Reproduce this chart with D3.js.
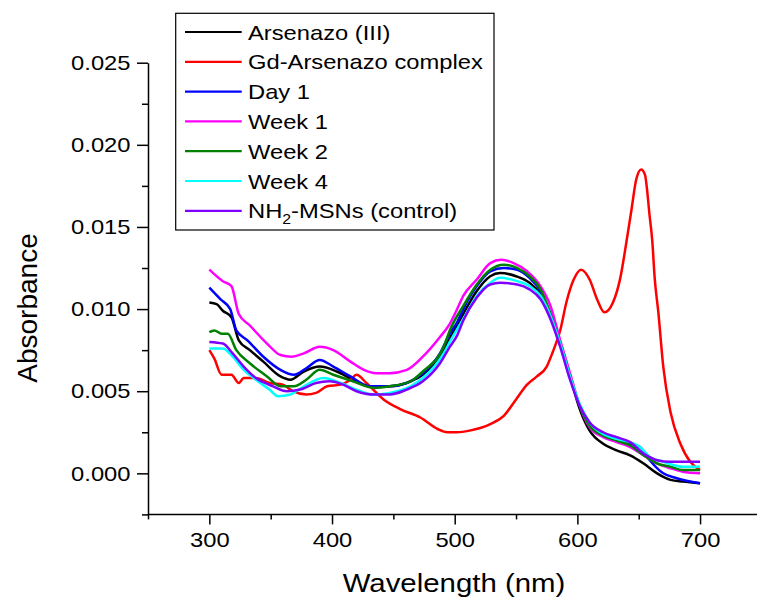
<!DOCTYPE html>
<html lang="en">
<head>
<meta charset="utf-8">
<style type="text/css">
    body { margin: 0; background: #fff; }
    svg { display: block; font-family: Arial, "Liberation Sans", sans-serif; }
    .axis path, .axis line { stroke: #000; stroke-width: 1.5px; }
    .axis text { font-size: 21px; fill: #000; font-family: Arial, "Liberation Sans", sans-serif; }
    .series { fill: none; stroke-width: 2.5px; stroke-linejoin: round; }
    .legend text { font-size: 21px; fill: #000; }
</style>
</head>
<body>
<svg width="757" height="597"></svg>

<script src="https://d3js.org/d3.v7.min.js"></script>
<script type="text/javascript">
// [wavelength nm, absorbance]
var arsenazo = [[300,0.0104],[306,0.0103],[311,0.0099],[318,0.0095],[324,0.0081],[333,0.0075],[344,0.0068],[358,0.0059],[366,0.0057],[377,0.0062],[390,0.0065],[404,0.0062],[417,0.0057],[431,0.0053],[447,0.0053],[464,0.0056],[474,0.0060],[491,0.0075],[496,0.0082],[507,0.0097],[518,0.0111],[529,0.0120],[537,0.0122],[550,0.0120],[561,0.0116],[570,0.0109],[578,0.0096],[586,0.0079],[594,0.0059],[602,0.0039],[610,0.0026],[621,0.0018],[632,0.0014],[643,0.0011],[654,0.0006],[665,0.0000],[676,-0.0004],[686,-0.0005],[700,-0.0006]];
var gdComplex = [[300,0.0075],[304,0.0070],[310,0.0060],[318,0.0060],[324,0.0055],[328,0.0058],[338,0.0058],[349,0.0055],[360,0.0054],[368,0.0050],[379,0.0048],[387,0.0049],[396,0.0053],[407,0.0054],[415,0.0057],[420,0.0060],[428,0.0055],[442,0.0045],[456,0.0039],[472,0.0034],[486,0.0027],[494,0.0025],[502,0.0025],[512,0.0026],[529,0.0030],[540,0.0035],[550,0.0045],[559,0.0054],[567,0.0059],[575,0.0065],[580,0.0074],[586,0.0087],[591,0.0104],[597,0.0118],[603,0.0124],[610,0.0118],[616,0.0106],[622,0.0098],[629,0.0104],[635,0.0119],[640,0.0141],[644,0.0160],[648,0.0179],[652,0.0185],[655,0.0182],[659,0.0156],[661,0.0142],[663,0.0119],[666,0.0098],[670,0.0065],[676,0.0037],[684,0.0018],[692,0.0007],[700,0.0002]];
var day1 = [[300,0.0113],[309,0.0106],[317,0.0100],[322,0.0087],[331,0.0081],[344,0.0071],[358,0.0063],[369,0.0060],[379,0.0064],[390,0.0069],[401,0.0065],[415,0.0059],[431,0.0053],[447,0.0053],[461,0.0055],[474,0.0061],[488,0.0073],[496,0.0085],[502,0.0092],[507,0.0100],[518,0.0114],[529,0.0123],[540,0.0125],[551,0.0124],[561,0.0119],[570,0.0111],[578,0.0097],[586,0.0079],[594,0.0059],[602,0.0041],[610,0.0029],[621,0.0023],[632,0.0020],[643,0.0018],[651,0.0016],[659,0.0008],[670,0.0000],[681,-0.0003],[700,-0.0006]];
var week1 = [[300,0.0124],[311,0.0117],[318,0.0114],[324,0.0097],[333,0.0090],[347,0.0079],[358,0.0072],[367,0.0071],[377,0.0073],[390,0.0077],[401,0.0075],[415,0.0068],[426,0.0063],[436,0.0061],[447,0.0061],[461,0.0063],[474,0.0071],[488,0.0083],[496,0.0091],[502,0.0100],[507,0.0108],[518,0.0118],[529,0.0128],[538,0.0130],[548,0.0128],[559,0.0123],[568,0.0116],[578,0.0102],[586,0.0081],[594,0.0061],[602,0.0041],[610,0.0028],[621,0.0022],[632,0.0019],[643,0.0016],[654,0.0011],[665,0.0006],[676,0.0003],[686,0.0001],[700,0.0000]];
var week2 = [[300,0.0086],[304,0.0087],[310,0.0085],[315,0.0085],[322,0.0075],[333,0.0067],[347,0.0059],[358,0.0053],[369,0.0053],[379,0.0057],[390,0.0063],[401,0.0060],[417,0.0056],[434,0.0052],[447,0.0053],[464,0.0056],[474,0.0062],[491,0.0077],[496,0.0087],[507,0.0102],[518,0.0115],[529,0.0124],[540,0.0127],[551,0.0125],[561,0.0120],[570,0.0112],[578,0.0097],[586,0.0079],[594,0.0059],[602,0.0041],[610,0.0029],[621,0.0023],[632,0.0020],[643,0.0017],[654,0.0011],[665,0.0006],[676,0.0004],[686,0.0002],[700,0.0002]];
var week4 = [[300,0.0076],[311,0.0076],[319,0.0071],[328,0.0063],[338,0.0057],[349,0.0051],[356,0.0047],[366,0.0048],[377,0.0053],[393,0.0058],[407,0.0055],[420,0.0051],[434,0.0048],[447,0.0049],[464,0.0053],[474,0.0058],[491,0.0073],[496,0.0080],[507,0.0094],[518,0.0108],[529,0.0116],[537,0.0119],[551,0.0117],[561,0.0114],[570,0.0108],[578,0.0096],[586,0.0079],[594,0.0059],[602,0.0042],[610,0.0031],[621,0.0024],[632,0.0021],[643,0.0019],[651,0.0016],[659,0.0010],[670,0.0007],[686,0.0004],[700,0.0004]];
var control = [[300,0.0080],[311,0.0079],[319,0.0073],[328,0.0065],[338,0.0058],[352,0.0053],[363,0.0050],[374,0.0051],[387,0.0055],[398,0.0056],[409,0.0054],[420,0.0050],[434,0.0048],[447,0.0048],[461,0.0051],[474,0.0056],[488,0.0067],[496,0.0077],[502,0.0084],[507,0.0093],[518,0.0107],[529,0.0115],[537,0.0116],[551,0.0115],[561,0.0112],[570,0.0106],[578,0.0094],[586,0.0077],[594,0.0057],[602,0.0041],[610,0.0031],[621,0.0025],[632,0.0022],[643,0.0019],[654,0.0012],[665,0.0008],[676,0.0007],[700,0.0007]];

var seriesNames = ["Arsenazo (III)", "Gd-Arsenazo complex", "Day 1", "Week 1", "Week 2", "Week 4", "NH2-MSNs (control)"];
var seriesColors = ["#000000", "#ff0000", "#0000ff", "#ff00ff", "#008000", "#00ffff", "#8000ff"];
var seriesData = [arsenazo, gdComplex, day1, week1, week2, week4, control];

var xTicks = [300, 400, 500, 600, 700];
var xMinor = [250, 350, 450, 550, 650, 750];
var yTicks = [0, 0.005, 0.010, 0.015, 0.020, 0.025];
var yMinor = [-0.0025, 0.0025, 0.0075, 0.0125, 0.0175, 0.0225];

var svg = d3.select("svg");

var x = d3.scaleLinear().domain([250, 750]).range([148, 761.4]);
var y = d3.scaleLinear().domain([-0.0025, 0.025]).range([514.4, 62.7]);

// widen text a bit, the original glyphs are horizontally stretched
function stretch(sel, k) {
    sel.each(function () {
        var w = this.getComputedTextLength();
        d3.select(this).attr("textLength", w * k).attr("lengthAdjust", "spacingAndGlyphs");
    });
}

// axes
var gx = svg.append("g").attr("class", "axis")
    .attr("transform", "translate(0," + y(-0.0025) + ")")
    .call(d3.axisBottom(x).tickValues(xTicks).tickSize(10).tickSizeOuter(0).tickPadding(7.5).tickFormat(d3.format("d")));
gx.select(".domain").attr("d", "M" + x(250) + ",0H" + x(750));
svg.append("g").attr("class", "axis")
    .attr("transform", "translate(0," + y(-0.0025) + ")")
    .call(d3.axisBottom(x).tickValues(xMinor).tickSize(5).tickFormat(""))
    .select(".domain").remove();

var gy = svg.append("g").attr("class", "axis")
    .attr("transform", "translate(" + x(250) + ",0)")
    .call(d3.axisLeft(y).tickValues(yTicks).tickSize(11).tickSizeOuter(0).tickPadding(6.5).tickFormat(d3.format(".3f")));
svg.append("g").attr("class", "axis")
    .attr("transform", "translate(" + x(250) + ",0)")
    .call(d3.axisLeft(y).tickValues(yMinor).tickSize(6).tickFormat(""))
    .select(".domain").remove();

stretch(gx.selectAll("text"), 1.13);
stretch(gy.selectAll("text"), 1.13);

// axis titles
var xt = svg.append("text")
    .attr("x", 454).attr("y", 592)
    .attr("text-anchor", "middle")
    .style("font-size", "26px")
    .text("Wavelength (nm)");
stretch(xt, 1.13);

svg.append("text")
    .attr("transform", "translate(37," + 308 + ") rotate(-90)")
    .attr("text-anchor", "middle")
    .style("font-size", "28px")
    .text("Absorbance");

// data lines
var line = d3.line()
    .x(function (d) { return x(d[0]); })
    .y(function (d) { return y(d[1]); })
    .curve(d3.curveMonotoneX);

svg.append("g").selectAll("path")
    .data(seriesData)
    .enter().append("path")
    .attr("class", "series")
    .attr("stroke", function (d, i) { return seriesColors[i]; })
    .attr("d", line);

// legend
var legend = svg.append("g").attr("class", "legend");
legend.append("rect")
    .attr("x", 175.7).attr("y", 13.3)
    .attr("width", 318.3).attr("height", 216.7)
    .attr("fill", "#fff").attr("stroke", "#000").attr("stroke-width", 1.2);

var rowY = function (i) { return 32 + i * 29.8; };
seriesNames.forEach(function (name, i) {
    legend.append("line")
        .attr("x1", 185).attr("x2", 241.7)
        .attr("y1", rowY(i)).attr("y2", rowY(i))
        .attr("stroke", seriesColors[i]).attr("stroke-width", 2.2);
    var t = legend.append("text")
        .attr("x", 248).attr("y", rowY(i) + 7.5);
    if (name.indexOf("NH2") === 0) {
        t.append("tspan").text("NH");
        t.append("tspan").attr("dy", 6).style("font-size", "14px").text("2");
        t.append("tspan").attr("dy", -6).text(name.slice(3));
    } else {
        t.text(name);
    }
    stretch(t, 1.13);
});
</script>
</body>
</html>
